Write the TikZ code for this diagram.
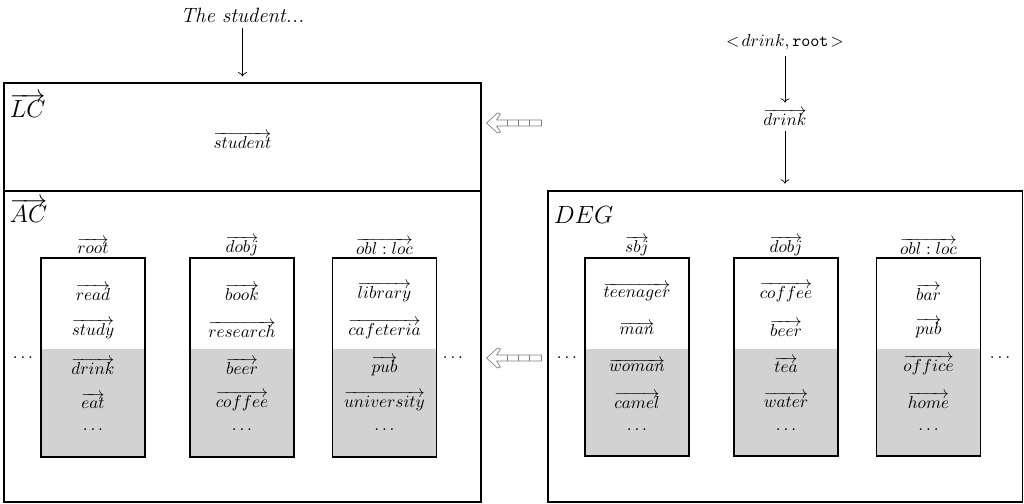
\documentclass[tikz,border=0pt]{standalone}
\usetikzlibrary{arrows.meta,fit}
\tikzset{
  box/.style={draw, semithick, inner sep=0pt},
  col/.style={draw, semithick},
  word/.style={inner sep=1pt},
  boxlabel/.style={anchor=base west, inner sep=0pt, font=\Large},
  hollow/.style={draw=gray, thin, line join=round},
}
\begin{document}
\begin{tikzpicture}[x=0.58pt,y=0.58pt,>=To]
\useasboundingbox (0,0) rectangle (1024,-503);
% left: linguistic context and active context
\node[box, fit={(4,-83) (481,-191)}] (lc) {};
\node[box, fit={(4,-191) (481,-502)}] (ac) {};
\node[boxlabel] (lclab) at ([shift={(6,-35)}]lc.north west) {$\overrightarrow{LC}$};
\node[boxlabel] (aclab) at ([shift={(6,-32)}]ac.north west) {$\overrightarrow{AC}$};
\node[word] (lcword) at (lc.north |- 0,-140) {$\overrightarrow{student}$};
\node[font=\large\itshape] (stud) at (lc.north |- 0,-15) {The student...};
\draw[->, shorten >=3.5pt] (stud) -- (lc);
\foreach \cx/\rel/\wone/\wtwo/\wthree/\wfour [count=\i] in
  {93/root/read/study/drink/eat,
   242/dobj/book/research/beer/coffee,
   384.5/obl:loc/library/cafeteria/pub/university}
{
  \fill[gray!35] (\cx-52,-349) rectangle (\cx+52,-457);
  \draw[col] (\cx-52,-258) rectangle (\cx+52,-457);
  \node[word] (ach\i) at (\cx,-246) {$\overrightarrow{\rel}$};
  \node[word] (ac\i a) at (\cx,-292) {$\overrightarrow{\wone}$};
  \node[word] (ac\i b) at (\cx,-329) {$\overrightarrow{\wtwo}$};
  \node[word] (ac\i c) at (\cx,-366) {$\overrightarrow{\wthree}$};
  \node[word] (ac\i d) at (\cx,-401) {$\overrightarrow{\wfour}$};
  \node[word] (ac\i e) at (\cx,-430) {$\ldots$};
}
\node[word] (acl) at (23,-358) {$\ldots$};
\node[word] (acr) at (453,-358) {$\ldots$};
% right: distributional event graph
\node[box, fit={(548,-191) (1022,-502)}] (deg) {};
\node[boxlabel] (deglab) at ([shift={(6,-33)}]deg.north west) {$DEG$};
\node (pair) at (deg.north |- 0,-42) {$<\!drink,\texttt{root}\!>$};
\node (drink) at (deg.north |- 0,-117) {$\overrightarrow{drink}$};
\draw[->] (pair) -- (drink);
\draw[->, shorten >=4pt] (drink) -- (deg);
\foreach \cx/\rel/\wone/\wtwo/\wthree/\wfour [count=\i] in
  {637/sbj/teenager/man/woman/camel,
   786/dobj/coffee/beer/tea/water,
   928.5/obl:loc/bar/pub/office/home}
{
  \fill[gray!35] (\cx-52,-349) rectangle (\cx+52,-456);
  \draw[col] (\cx-52,-258) rectangle (\cx+52,-456);
  \node[word] (degh\i) at (\cx,-246) {$\overrightarrow{\rel}$};
  \node[word] (deg\i a) at (\cx,-292) {$\overrightarrow{\wone}$};
  \node[word] (deg\i b) at (\cx,-328) {$\overrightarrow{\wtwo}$};
  \node[word] (deg\i c) at (\cx,-365) {$\overrightarrow{\wthree}$};
  \node[word] (deg\i d) at (\cx,-400) {$\overrightarrow{\wfour}$};
  \node[word] (deg\i e) at (\cx,-430) {$\ldots$};
}
\node[word] (degl) at (567,-358) {$\ldots$};
\node[word] (degr) at (1000,-358) {$\ldots$};
% updates from DEG
\coordinate (up) at (0,-123);
\coordinate (lo) at (0,-358);
\foreach \pt in {up,lo}
{
  \begin{scope}[shift={(lc.east |- \pt)}]
    \draw[hollow] (60,3) -- (15,3) -- (19,9) -- (16,10) -- (5,0) -- (16,-10)
      -- (19,-9) -- (15,-3) -- (60,-3) -- cycle;
    \foreach \tx in {26,37,48} \draw[hollow] (\tx,3) -- (\tx,-3);
  \end{scope}
}
\end{tikzpicture}
\end{document}
